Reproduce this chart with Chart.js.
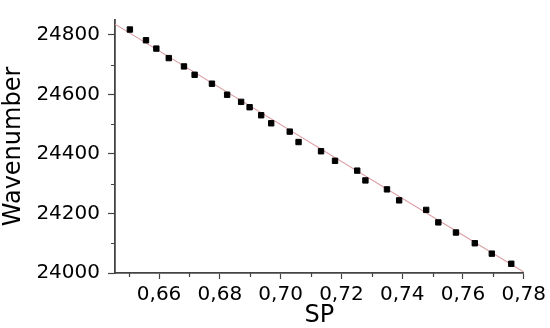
<!DOCTYPE html>
<html>
<head>
<meta charset="utf-8">
<script src="https://cdn.jsdelivr.net/npm/chart.js@4.4.1/dist/chart.umd.min.js"></script>
<style>
html,body{margin:0;padding:0;background:#fff;}
#wrap{width:550px;height:328px;position:relative;}
</style>
</head>
<body>
<div id="wrap"><canvas id="c" width="550" height="328"></canvas></div>
<script>
// Data
const spValues = [0.6504,0.6557,0.6591,0.6632,0.6682,0.6717,0.6774,0.6824,0.6870,0.6898,0.6936,0.6969,0.7030,0.7059,0.7133,0.7179,0.7252,0.7279,0.7350,0.7390,0.7479,0.7519,0.7577,0.7639,0.7695,0.7759];
const wavenumberValues = [24818,24782,24754,24722,24694,24666,24636,24599,24575,24557,24530,24503,24475,24440,24409,24377,24344,24311,24281,24244,24212,24170,24136,24100,24065,24031];
// Fitted line endpoints
const fitX = [0.6455,0.78];
const fitY = [24836,24003];
// Axis ticks
const xTicks = [0.66,0.68,0.70,0.72,0.74,0.76,0.78];
const xMinorTicks = [0.65,0.67,0.69,0.71,0.73,0.75,0.77];
const yTicks = [24000,24200,24400,24600,24800];
const yMinorTicks = [24100,24300,24500,24700];

const pts = spValues.map((x,i)=>({x:x,y:wavenumberValues[i]}));
const fit = fitX.map((x,i)=>({x:x,y:fitY[i]}));

const AXIS_COLOR = '#444';
const FONT = 'DejaVu Sans';

const minorTicks = {
  id:'minorTicks',
  afterDraw(chart){
    const ctx = chart.ctx;
    const xs = chart.scales.x, ys = chart.scales.y;
    ctx.save();
    ctx.strokeStyle = AXIS_COLOR;
    ctx.lineWidth = 1.2;
    ctx.beginPath();
    xMinorTicks.forEach(v=>{
      const px = Math.round(xs.getPixelForValue(v))+0.5;
      ctx.moveTo(px, xs.top); ctx.lineTo(px, xs.top+4);
    });
    yMinorTicks.forEach(v=>{
      const py = Math.round(ys.getPixelForValue(v))+0.5;
      ctx.moveTo(ys.right, py); ctx.lineTo(ys.right-4, py);
    });
    ctx.stroke();
    ctx.restore();
  }
};

new Chart(document.getElementById('c'), {
  type:'scatter',
  data:{
    datasets:[
      {
        label:'data',
        data:pts,
        order:0,
        pointStyle:'rect',
        pointRadius:3.8,
        pointBorderWidth:1,
        backgroundColor:'#000',
        borderColor:'#000',
        showLine:false
      },
      {
        label:'fit',
        data:fit,
        order:1,
        showLine:true,
        pointRadius:0,
        borderColor:'#dc9ea6',
        borderWidth:1.2,
        backgroundColor:'transparent'
      }
    ]
  },
  options:{
    responsive:false,
    animation:false,
    devicePixelRatio:1,
    layout:{padding:{top:2,right:25,left:0,bottom:0}},
    plugins:{legend:{display:false},tooltip:{enabled:false}},
    scales:{
      x:{
        type:'linear',
        min:0.6455,
        max:0.78,
        afterBuildTicks(s){ s.ticks = xTicks.map(v=>({value:v})); },
        afterFit(s){ s.height = 55; },
        grid:{drawOnChartArea:false, drawTicks:true, tickLength:6, tickColor:AXIS_COLOR, tickWidth:1.2},
        border:{display:true,color:AXIS_COLOR,width:1.8},
        ticks:{
          color:'#000',
          padding:4,
          maxRotation:0,
          autoSkip:false,
          font:{family:FONT,size:20},
          callback:(v)=>Number(v).toFixed(2).replace('.',',')
        },
        title:{display:true,text:'SP',color:'#000',font:{family:FONT,size:24,lineHeight:1.0},padding:{top:0,bottom:0}}
      },
      y:{
        type:'linear',
        min:24000,
        max:24850,
        afterBuildTicks(s){ s.ticks = yTicks.map(v=>({value:v})); },
        afterFit(s){ s.width = 115; },
        grid:{drawOnChartArea:false, drawTicks:true, tickLength:7, tickColor:AXIS_COLOR, tickWidth:1.2},
        border:{display:true,color:AXIS_COLOR,width:1.8},
        ticks:{
          color:'#000',
          padding:8,
          autoSkip:false,
          font:{family:FONT,size:20},
          callback:(v)=>String(v)
        },
        title:{display:true,text:'Wavenumber',color:'#000',font:{family:FONT,size:24,lineHeight:1.1},padding:{top:1,bottom:0}}
      }
    }
  },
  plugins:[minorTicks]
});
</script>
</body>
</html>
